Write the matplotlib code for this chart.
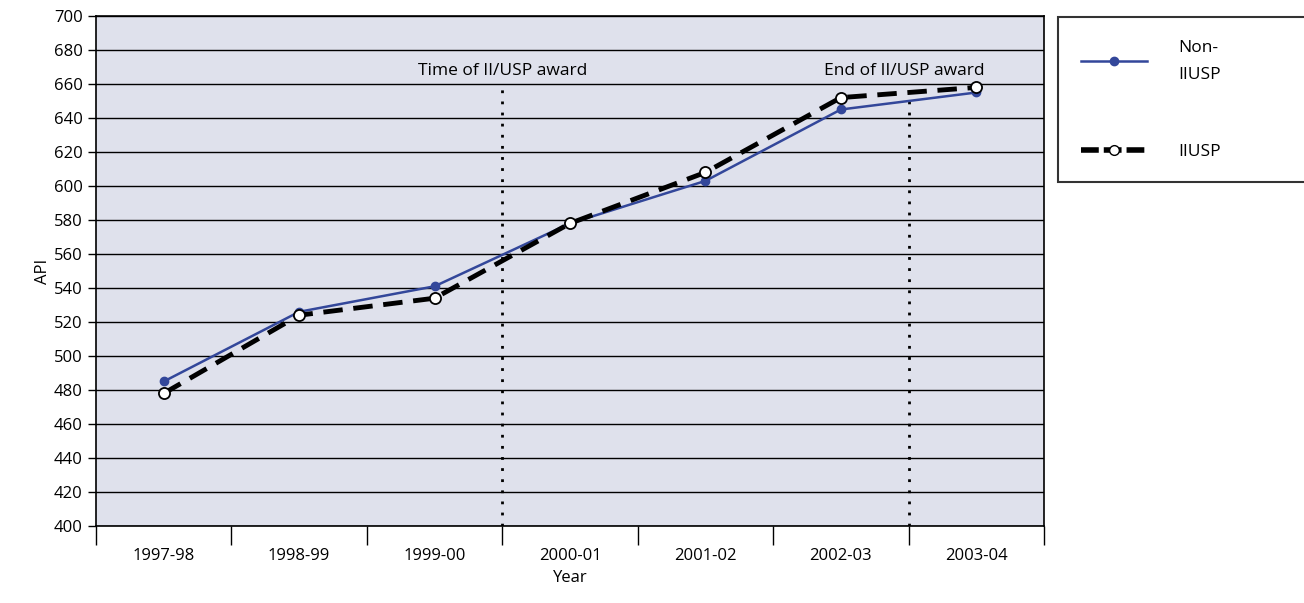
import numpy as np
import matplotlib.pyplot as plt
from matplotlib.lines import Line2D

years = ['1997-98', '1998-99', '1999-00', '2000-01', '2001-02', '2002-03', '2003-04']
non_iiusp = [485, 526, 541, 578, 603, 645, 655]
iiusp = [478, 524, 534, 578, 608, 652, 658]

plt.rcParams['font.family'] = ['Open Sans', 'DejaVu Sans']
plt.rcParams['font.size'] = 12

fig = plt.figure(figsize=(13.04, 6.03), dpi=100)
ax = fig.add_axes([96/1304, 1-526/603, (1044-96)/1304, (526-16)/603])
ax.set_facecolor('#dfe1ec')

x = np.arange(len(years))
blue = '#33479a'
ax.plot(x, non_iiusp, color=blue, lw=1.8, marker='o', ms=6, mfc=blue, mec=blue, zorder=4)
ax.plot(x, iiusp, color='black', lw=3.5, ls=(0, (4, 2.2)), marker='o', ms=8,
        mfc='white', mec='black', mew=1.3, zorder=5)

ax.set_xlim(-0.5, 6.5)
ax.set_ylim(400, 700)
ax.set_yticks(np.arange(400, 701, 20))
ax.yaxis.grid(True, color='black', lw=1)
ax.set_axisbelow(True)

# category boundaries as ticks
ax.set_xticks(np.arange(-0.5, 7, 1))
ax.set_xticklabels([])
ax.set_xticks(x, minor=True)
ax.set_xticklabels(years, minor=True)
ax.tick_params(axis='x', which='major', length=14, width=1, direction='out')
ax.tick_params(axis='x', which='minor', length=0, pad=16)
ax.tick_params(axis='y', length=6, width=1)
for s in ax.spines.values():
    s.set_linewidth(1.2)

ax.set_xlabel('Year', labelpad=4)
ax.set_ylabel('API', labelpad=2)

ax.plot([2.5, 2.5], [400, 660], color='black', ls=(0, (1, 3)), lw=2, zorder=3)
ax.plot([5.5, 5.5], [400, 650], color='black', ls=(0, (1, 3)), lw=2, zorder=3)
ax.text(2.5, 663, 'Time of II/USP award', ha='center', va='bottom', fontsize=12.5)
ax.text(5.47, 663, 'End of II/USP award', ha='center', va='bottom', fontsize=12.5)

handles = [
    Line2D([], [], color=blue, lw=1.8, marker='o', ms=6, mfc=blue, mec=blue),
    Line2D([], [], color='black', lw=4, ls=(0, (3.2, 0.9)), marker='o', ms=7,
           mfc='white', mec='black', mew=1),
]
leg = fig.legend(handles, ['Non-\nIIUSP', 'IIUSP'], loc='upper left',
                 bbox_to_anchor=(1058/1304, 1-182/603, 260/1304, 165/603), mode='expand',
                 frameon=True, fancybox=False, edgecolor='black', handlelength=3.8,
                 handletextpad=1.8, labelspacing=3.5, borderpad=1.3, borderaxespad=0,
                 fontsize=12.5)
for t in leg.get_texts():
    t.set_linespacing(1.95)
leg.get_frame().set_linewidth(1.5)

fig.savefig('out.png', dpi=100)
